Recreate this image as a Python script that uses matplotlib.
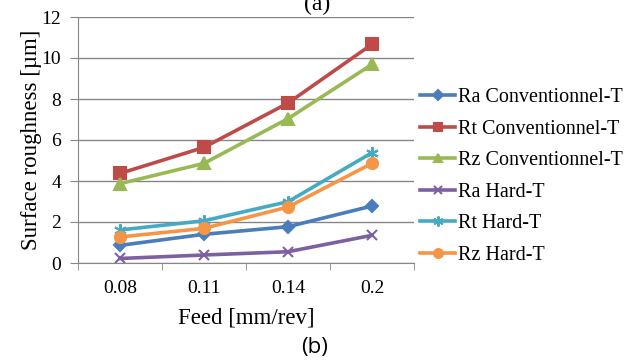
import numpy as np
import matplotlib.pyplot as plt
from matplotlib.ticker import FixedLocator

### data
feeds = ["0.08", "0.11", "0.14", "0.2"]
ra_conv = [0.86, 1.40, 1.77, 2.78]
rt_conv = [4.37, 5.64, 7.80, 10.67]
rz_conv = [3.87, 4.86, 7.04, 9.69]
ra_hard = [0.22, 0.39, 0.55, 1.35]
rt_hard = [1.61, 2.06, 2.99, 5.38]
rz_hard = [1.27, 1.69, 2.73, 4.86]

series = [
    ("Ra Conventionnel-T", ra_conv, "#4A7EBB", "D", 6),
    ("Rt Conventionnel-T", rt_conv, "#BE4B48", "s", 8),
    ("Rz Conventionnel-T", rz_conv, "#98B954", "^", 8),
    ("Ra Hard-T", ra_hard, "#7D60A0", "x", 7),
    ("Rt Hard-T", rt_hard, "#46AAC5", (6, 2, 0), 9),
    ("Rz Hard-T", rz_hard, "#F59646", "o", 8),
]

plt.rcParams['font.family'] = ['Liberation Serif', 'DejaVu Serif']

fig = plt.figure(figsize=(6.33, 3.6), dpi=100)
ax = fig.add_axes([78/633, 1-263/360, 336/633, 246/360])

x = np.arange(len(feeds))
for name, vals, col, mk, ms in series:
    ax.plot(x, vals, color=col, lw=2.6, marker=mk, ms=ms, mew=1.5,
            mec=col, mfc=col, label=name)

ax.set_xlim(-0.5, len(feeds) - 0.5)
ax.set_ylim(0, 12)
ax.set_yticks(np.arange(0, 13, 2))
ax.set_xticks(x)
ax.set_xticklabels(feeds)
ax.xaxis.set_minor_locator(FixedLocator(np.arange(-0.5, len(feeds), 1)))
ax.tick_params(axis='x', which='major', length=0, labelsize=14, pad=12)
ax.tick_params(axis='x', which='minor', length=5, color='#868686')
ax.tick_params(axis='y', length=6, color='#868686', labelsize=14, pad=6)
ax.grid(axis='y', color='#868686', lw=1)
ax.set_axisbelow(True)
for s in ['top', 'right']:
    ax.spines[s].set_visible(False)
for s in ['left', 'bottom']:
    ax.spines[s].set_color('#868686')

ax.set_ylabel("Surface roughness [µm]", fontsize=16.5, labelpad=0)
ax.set_xlabel("Feed [mm/rev]", fontsize=16.5, labelpad=8)

fig.legend(loc='upper left', bbox_to_anchor=(420/633, 1-88/360),
           bbox_transform=fig.transFigure, frameon=False,
           fontsize=14.5, handlelength=1.75, handletextpad=0.15,
           labelspacing=0.62, markerscale=0.8, borderpad=0, borderaxespad=0)

fig.text(315/633, 1-348/360, "(b)", fontsize=16, family='Open Sans',
         ha='center', va='center')
fig.text(317/633, 1-4/360, "(a)", fontsize=17, ha='center', va='center')

fig.savefig("out.png", dpi=100)
